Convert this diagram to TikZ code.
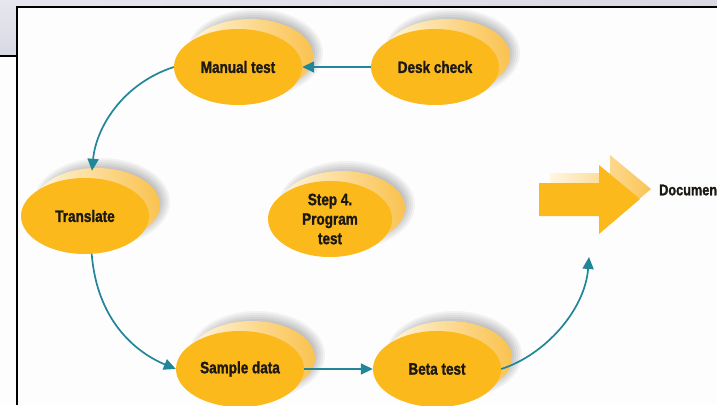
\documentclass[tikz,border=0pt]{standalone}
\usepackage{fontspec}
\setmainfont{Liberation Sans}[FakeStretch=0.82, BoldFeatures={FakeBold=1.3}]
\usetikzlibrary{shapes.geometric,arrows.meta}

\definecolor{paper}{RGB}{253,253,253}
\definecolor{chrome}{RGB}{216,217,227}
\definecolor{chromelight}{RGB}{230,231,238}
\definecolor{bubblefill}{RGB}{251,185,27}
\definecolor{creamlight}{RGB}{255,246,226}
\definecolor{creamdeep}{RGB}{250,196,84}
\definecolor{flowteal}{RGB}{32,134,152}
\definecolor{ink}{RGB}{28,24,20}

\tikzset{
  bubble/.style={ellipse, fill=bubblefill, minimum width=128pt, minimum height=76pt,
    inner sep=0pt, text=ink, font=\bfseries\fontsize{16.5}{19.5}\selectfont, align=center},
  flow/.style={draw=flowteal, line width=1.7pt,
    -{Triangle[length=12pt,width=11pt]}},
  frameline/.style={line width=2pt, black},
}

% shadow and lighter rim behind each bubble
\newcommand\bubblebase[2]{%
  \foreach \k in {0,...,6}{
    \fill[black, opacity=0.045] (#1+17,#2-14) ellipse ({56+2*\k} and {32+2*\k});
  }
  \shade[left color=creamlight, right color=creamdeep, shading angle=100]
    (#1+12,#2-11) ellipse (63 and 37);
}

\begin{document}
\begin{tikzpicture}[x=1pt,y=-1pt]
\useasboundingbox (0,0) rectangle (717,405);
\fill[paper] (0,0) rectangle (717,405);

% window chrome and frame
\shade[left color=chromelight, right color=chrome] (0,0) rectangle (717,7);
\shade[top color=chromelight, bottom color=chrome] (0,0) rectangle (16.7,56.2);
\draw[frameline] (0,56.2) -- (16.7,56.2);
\draw[frameline] (16.7,405) -- (16.7,7) -- (717,7);

% bubbles
\bubblebase{238}{67}
\bubblebase{435}{67}
\bubblebase{85}{216}
\bubblebase{330}{219}
\bubblebase{240}{369}
\bubblebase{437}{369}

\node[bubble] (mt) at (238,67) {Manual test};
\node[bubble] (dc) at (435,67) {Desk check};
\node[bubble] (tr) at (85,216) {Translate};
\node[bubble, minimum width=124pt] (st) at (330,219) {Step 4.\\Program\\test};
\node[bubble] (sd) at (240,369) {Sample data};
\node[bubble] (bt) at (437,369) {Beta test};

% big arrow: lighter extruded copy behind, solid arrow in front
\shade[left color=creamlight, right color=creamdeep]
  (550,173) -- (610,173) -- (610,155) -- (651,189) -- (610,224) -- (610,206) -- (550,206) -- cycle;
\fill[bubblefill]
  (539,183) -- (599,183) -- (599,165) -- (640,199) -- (599,234) -- (599,216) -- (539,216) -- cycle;
\node[anchor=west, inner sep=0pt, text=ink, font=\bfseries\fontsize{15.5}{18}\selectfont]
  (doc) at (659,190) {Documen};

% connectors
\coordinate (up) at (589,257);
\draw[flow] (dc.west) -- (mt.east);
\draw[flow] (mt.west) .. controls (122,84) and (96,128) .. ([shift={(7,-7)}]tr.north);
\draw[flow] (tr.-80) .. controls (97,320) and (135,352) .. (sd.west);
\draw[flow] (sd.east) -- (bt.west);
\draw[flow] (bt.east) .. controls (545,355) and (585,310) .. (up);
\end{tikzpicture}
\end{document}
